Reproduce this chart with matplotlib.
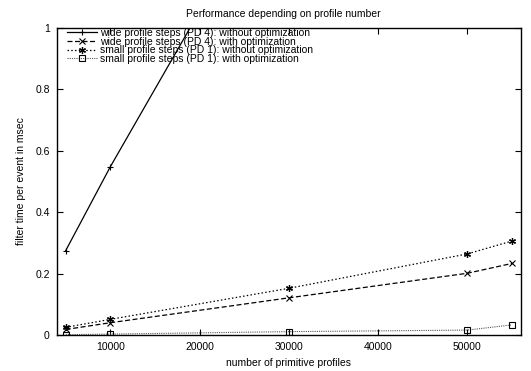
import matplotlib
matplotlib.use('Agg')
from matplotlib import pyplot as plt

plt.rcParams['font.family'] = ['Liberation Sans', 'DejaVu Sans']
plt.rcParams['font.size'] = 7.5

profiles = [5000, 10000, 30000, 50000, 55000]
wide_no_opt = [0.275, 0.548, 1.56, 2.60, 2.87]
wide_opt = [0.018, 0.040, 0.121, 0.201, 0.233]
small_no_opt = [0.025, 0.051, 0.152, 0.264, 0.306]
small_opt = [0.001, 0.003, 0.011, 0.016, 0.033]

labels = ['wide profile steps (PD 4): without optimization',
          'wide profile steps (PD 4): with optimization',
          'small profile steps (PD 1): without optimization',
          'small profile steps (PD 1): with optimization']

fig = plt.figure(figsize=(5.31, 3.71), dpi=100)
ax = fig.add_axes([0.107, 0.097, 0.874, 0.828])

ax.plot(profiles, wide_no_opt, color='black', lw=0.9, ls='-',
        marker='+', ms=5, mew=0.8, label=labels[0])
ax.plot(profiles, wide_opt, color='black', lw=0.9, ls=(0, (4, 2)),
        marker='x', ms=4, mew=0.8, label=labels[1])
ax.plot(profiles, small_no_opt, color='black', lw=0.9, ls=(0, (1.2, 1.8)),
        marker=(6, 2, 0), ms=5, mew=0.9, label=labels[2])
ax.plot(profiles, small_opt, color='#555555', lw=0.8, ls=(0, (1, 1)),
        marker='s', ms=4, mew=0.8, mfc='none', mec='black', label=labels[3])

ax.set_xlim(4000, 56000)
ax.set_ylim(0, 1)
ax.set_xticks([10000, 20000, 30000, 40000, 50000])
ax.set_yticks([0, 0.2, 0.4, 0.6, 0.8, 1])
ax.set_yticklabels(['0', '0.2', '0.4', '0.6', '0.8', '1'])
ax.tick_params(direction='in', top=True, right=True, length=4, width=0.8,
               labelsize=7.5, pad=5)
for s in ax.spines.values():
    s.set_linewidth(1.0)

ax.set_title('Performance depending on profile number', fontsize=7.5,
             pad=8, x=0.487)
ax.set_xlabel('number of primitive profiles', fontsize=7.5, labelpad=4)
ax.set_ylabel('filter time per event in msec', fontsize=7.5, labelpad=7)

ax.legend(loc='upper left', bbox_to_anchor=(0.022, 1.0), frameon=False,
          fontsize=7.5, handlelength=2.9, handletextpad=0.25,
          labelspacing=-0.12, borderaxespad=0, borderpad=0)

fig.savefig('out.png', dpi=100)
